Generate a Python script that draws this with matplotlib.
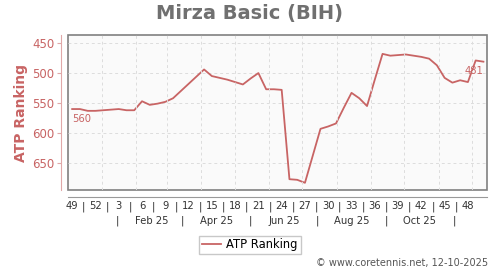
import numpy as np
import matplotlib
matplotlib.use("Agg")
import matplotlib.pyplot as plt

# weekly ATP ranking, week 49/2024 .. week 50/2025
ranking = [560, 560, 563, 563, 562, 561, 560, 562, 562, 547,
           553, 551, 548, 542, 530, 518, 506, 494, 505, 508,
           511, 515, 519, 509, 500, 527, 527, 528, 677, 678,
           683, 638, 593, 589, 584, 558, 533, 542, 555, 511,
           468, 471, 470, 469, 471, 473, 476, 487, 508, 516,
           512, 515, 479, 481]
week_labels = [49, 52, 3, 6, 9, 12, 15, 18, 21, 24, 27, 30, 33, 36, 39, 42, 45, 48]
month_labels = ["Feb 25", "Apr 25", "Jun 25", "Aug 25", "Oct 25"]
month_mid = ["2025-02-15", "2025-04-15", "2025-06-15", "2025-08-15", "2025-10-15"]
month_sep = ["2025-01-15", "2025-03-15", "2025-05-15", "2025-07-15", "2025-09-15", "2025-11-15"]
month_starts = ["2025-01-01", "2025-02-01", "2025-03-01", "2025-04-01", "2025-05-01", "2025-06-01",
                "2025-07-01", "2025-08-01", "2025-09-01", "2025-10-01", "2025-11-01", "2025-12-01"]

start = np.datetime64("2024-12-02")
def days(d):
    return (np.array(d, dtype="datetime64[D]") - start).astype(float)

red = "#c86464"
x = 3.5 + 7 * np.arange(len(ranking))

fig = plt.figure(figsize=(5, 2.7), dpi=100)
ax = fig.add_axes([0.1366, 0.2963, 0.838, 0.573])
ax.patch.set_facecolor("#fafafa")
ax.patch.set_edgecolor("#808080")
ax.patch.set_linewidth(1.2)

ax.plot(x, ranking, color=red, lw=1.3, label="ATP Ranking")
ax.annotate(str(ranking[0]), (x[0], ranking[0]), xytext=(0, -7), textcoords="offset points",
            ha="left", va="center", fontsize=7.2, color=red)
ax.annotate(str(ranking[-1]), (x[-1], ranking[-1]), xytext=(0, -6.5), textcoords="offset points",
            ha="right", va="center", fontsize=7.2, color=red)

ax.set_xlim(0, 378)
ax.set_ylim(695, 437)

for s in ["top", "right"]:
    ax.spines[s].set_visible(False)
ax.spines["left"].set_position(("outward", 5))
ax.spines["left"].set_color("#e0a8a8")
ax.spines["bottom"].set_position(("outward", 5))
ax.spines["bottom"].set_color("#999999")

ax.set_yticks([450, 500, 550, 600, 650])
ax.tick_params(axis="y", colors="#e0a8a8", labelcolor=red, labelsize=8.5, length=3, pad=2)
ax.grid(axis="y", color="#dddddd", ls=(0, (3, 3)), lw=0.7)
for d in days(month_starts):
    ax.axvline(d, color="#dddddd", ls=(0, (3, 3)), lw=0.7)

wk_pos = 3.5 + 21 * np.arange(len(week_labels))
ax.set_xticks(wk_pos)
ax.set_xticklabels([str(w) for w in week_labels])
ax.set_xticks(wk_pos[:-1] + 10.5, minor=True)
ax.set_xticklabels(["|"] * (len(wk_pos) - 1), minor=True)
ax.tick_params(axis="x", which="both", length=0, pad=3, labelsize=7.2, labelcolor="#333333")

sec = ax.secondary_xaxis(0)
sec.spines["bottom"].set_visible(False)
sec.set_xticks(days(month_mid))
sec.set_xticklabels(month_labels)
sec.set_xticks(days(month_sep), minor=True)
sec.set_xticklabels(["|"] * len(month_sep), minor=True)
sec.tick_params(axis="x", which="both", length=0, pad=18.5, labelsize=7.2, labelcolor="#333333")

ax.set_ylabel("ATP Ranking", color=red, fontsize=10, fontweight="bold", labelpad=3)
fig.suptitle("Mirza Basic (BIH)", x=0.5, y=0.985, fontsize=14, fontweight="bold", color="#707070")

fig.legend(loc="center", bbox_to_anchor=(0.5, 0.093), fontsize=8.3, frameon=True,
           fancybox=False, edgecolor="#bbbbbb", handlelength=1.6, borderpad=0.25,
           handletextpad=0.5, borderaxespad=0)
fig.text(0.976, 0.025, "\u00a9 www.coretennis.net, 12-10-2025", ha="right", va="center",
         fontsize=7, color="#555555")

fig.savefig("out.png", dpi=100)
